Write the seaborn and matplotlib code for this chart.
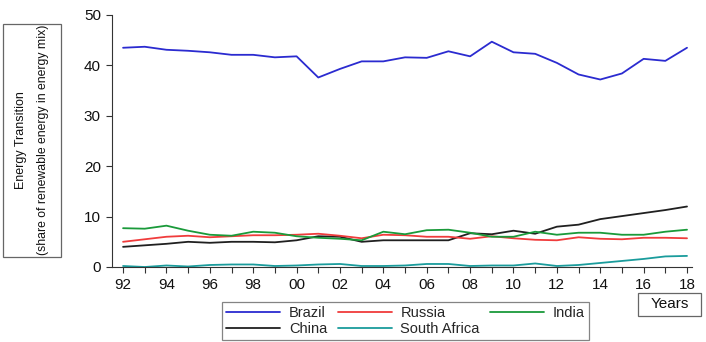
import numpy as np
import pandas as pd
import matplotlib
matplotlib.use("Agg")
import matplotlib.pyplot as plt
from matplotlib.patches import Rectangle
import seaborn as sns

years = list(range(1992, 2019))

brazil = [43.5, 43.7, 43.1, 42.9, 42.6, 42.1, 42.1, 41.6, 41.8, 37.6,
          39.3, 40.8, 40.8, 41.6, 41.5, 42.8, 41.8, 44.7, 42.6, 42.3,
          40.5, 38.2, 37.2, 38.4, 41.3, 40.9, 43.5]
russia = [5.0, 5.5, 6.0, 6.2, 5.9, 6.1, 6.3, 6.3, 6.4, 6.6,
          6.2, 5.7, 6.4, 6.3, 6.0, 6.0, 5.6, 6.1, 5.7, 5.4,
          5.3, 5.9, 5.6, 5.5, 5.8, 5.8, 5.7]
india = [7.7, 7.6, 8.2, 7.2, 6.4, 6.2, 7.0, 6.8, 6.1, 5.8,
         5.6, 5.3, 7.0, 6.5, 7.3, 7.4, 6.8, 6.0, 6.0, 7.0,
         6.4, 6.8, 6.8, 6.4, 6.4, 7.0, 7.4]
china = [4.0, 4.3, 4.6, 5.0, 4.8, 5.0, 5.0, 4.9, 5.3, 6.1,
         6.0, 5.0, 5.3, 5.3, 5.3, 5.3, 6.7, 6.5, 7.2, 6.6,
         8.0, 8.4, 9.5, 10.1, 10.7, 11.3, 12.0]
south_africa = [0.2, 0.0, 0.3, 0.1, 0.4, 0.5, 0.5, 0.2, 0.3, 0.5,
                0.6, 0.2, 0.2, 0.3, 0.6, 0.6, 0.2, 0.3, 0.3, 0.7,
                0.2, 0.4, 0.8, 1.2, 1.6, 2.1, 2.2]

COLORS = {"Brazil": "#2b2bd0", "Russia": "#f03c3c", "India": "#1a9a3a",
          "China": "#202020", "South Africa": "#1a9c9c"}
# legend fills column-wise, so this order gives Brazil/Russia/India on top row
ORDER = ["Brazil", "China", "Russia", "South Africa", "India"]

df = pd.DataFrame({"year": years, "Brazil": brazil, "Russia": russia,
                   "India": india, "China": china, "South Africa": south_africa})
long = df.melt(id_vars="year", var_name="country", value_name="share")

sns.set_theme(style="ticks")
plt.rcParams["font.family"] = ["Liberation Sans", "DejaVu Sans"]

fig = plt.figure(figsize=(7.06, 3.42), dpi=100)
ax = fig.add_axes([112 / 706, 75 / 342, 580 / 706, 252 / 342])

sns.lineplot(data=long, x="year", y="share", hue="country", hue_order=ORDER,
             palette=COLORS, linewidth=1.3, ax=ax, legend=False)

ax.set_xlim(1991.49, 2018.23)
ax.set_ylim(0, 50)
ax.set_xticks(years)
ax.set_xticklabels([f"{y % 100:02d}" if y % 2 == 0 else "" for y in years])
ax.set_yticks([0, 10, 20, 30, 40, 50])
ax.tick_params(axis="both", direction="out", length=4, width=0.8,
               color="#333333", labelsize=11, labelcolor="#111111", pad=4)
ax.set_xlabel("")
ax.set_ylabel("")
sns.despine(ax=ax)
for s in ["left", "bottom"]:
    ax.spines[s].set_color("#333333")
    ax.spines[s].set_linewidth(0.8)

# y-axis label in its own box
fig.patches.append(Rectangle((3 / 706, 1 - 257 / 342), 58 / 706, 233 / 342,
                             transform=fig.transFigure, fill=False,
                             edgecolor="#666666", linewidth=0.9))
fig.text(21 / 706, 1 - 140 / 342, "Energy Transition", rotation=90,
         ha="center", va="center", fontsize=9, color="#111111")
fig.text(43 / 706, 1 - 140 / 342, "(share of renewable energy in energy mix)",
         rotation=90, ha="center", va="center", fontsize=8.8, color="#111111")

# x-axis label box
fig.patches.append(Rectangle((638 / 706, 1 - 316 / 342), 63 / 706, 23 / 342,
                             transform=fig.transFigure, fill=False,
                             edgecolor="#666666", linewidth=0.9))
fig.text(669.5 / 706, 1 - 304.5 / 342, "Years", ha="center", va="center",
         fontsize=11, color="#111111")

handles = [plt.Line2D([], [], color=COLORS[c], lw=1.3) for c in ORDER]
leg = fig.legend(handles, ORDER, ncol=3, loc="center",
                 bbox_to_anchor=(405.5 / 706, 1 - 321 / 342),
                 frameon=True, fancybox=False, fontsize=10.5,
                 handlelength=3.7, handletextpad=0.6, columnspacing=0.7,
                 labelspacing=0.15, borderpad=0.3)
leg.get_frame().set_edgecolor("#666666")
leg.get_frame().set_linewidth(0.9)

fig.savefig("out.png", dpi=100)
